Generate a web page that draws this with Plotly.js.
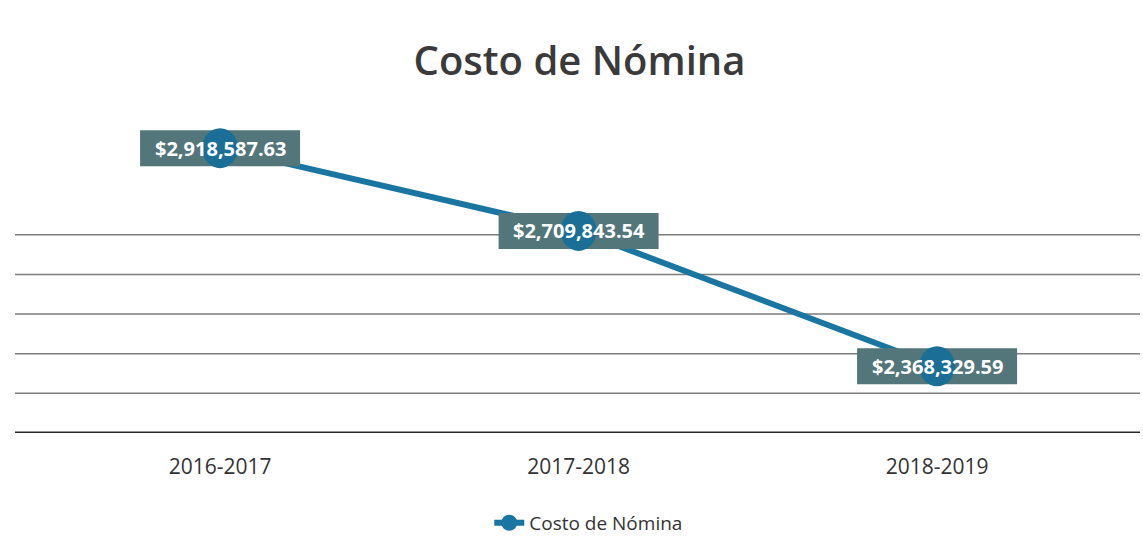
<!DOCTYPE html>
<html>
<head>
<meta charset="utf-8">
<script src="https://cdn.plot.ly/plotly-3.0.1.min.js"></script>
<style>html,body{margin:0;padding:0;background:#fff;}#chart{width:1143px;height:556px;}</style>
</head>
<body>
<div id="chart"></div>
<script>
const categories = ["2016-2017", "2017-2018", "2018-2019"];
const costoNomina = [2918587.63, 2709843.54, 2368329.59];
const valueLabels = ["$2,918,587.63", "$2,709,843.54", "$2,368,329.59"];
const gridValues = [2300000, 2400000, 2500000, 2600000, 2700000];
const seriesName = "Costo de Nómina";
const chartTitle = "Costo de Nómina";

const FONT = "Open Sans, Liberation Sans, sans-serif";
const lineColor = "#1a76a0";
const dotColor = "#1b6f97";
const boxColor = "#52767a";

const trace = {
  x: categories,
  y: costoNomina,
  type: "scatter",
  mode: "lines+markers",
  name: seriesName,
  line: {color: lineColor, width: 6},
  marker: {color: lineColor, size: 36},
  hoverinfo: "skip"
};

const shapes = gridValues.map(v => ({
  type: "line", xref: "paper", yref: "y", x0: 0, x1: 1, y0: v, y1: v,
  line: {color: "#7d7d7d", width: 1.5}, layer: "below"
}));
shapes.push({
  type: "line", xref: "paper", yref: "y", x0: 0, x1: 1, y0: 2200000, y1: 2200000,
  line: {color: "#262626", width: 3}, layer: "below"
});
// label boxes (above the line) then the dots above the boxes
categories.forEach((c, i) => {
  shapes.push({
    type: "rect", xref: "x", yref: "y", xsizemode: "pixel", ysizemode: "pixel",
    xanchor: c, yanchor: costoNomina[i], x0: -80, x1: 80, y0: -18, y1: 18,
    fillcolor: boxColor, line: {width: 0}, layer: "above"
  });
});
categories.forEach((c, i) => {
  shapes.push({
    type: "circle", xref: "x", yref: "y", xsizemode: "pixel", ysizemode: "pixel",
    xanchor: c, yanchor: costoNomina[i], x0: -18, x1: 18, y0: -20, y1: 20,
    fillcolor: dotColor, line: {width: 0}, layer: "above"
  });
});

const annotations = categories.map((c, i) => ({
  x: c, y: costoNomina[i], xref: "x", yref: "y",
  text: "<b>" + valueLabels[i] + "</b>",
  showarrow: false,
  font: {family: FONT, size: 20, color: "#ffffff"},
  xanchor: "center", yanchor: "middle"
}));

const layout = {
  width: 1143, height: 556,
  paper_bgcolor: "#ffffff", plot_bgcolor: "rgba(0,0,0,0)",
  margin: {l: 15, r: 3, t: 100, b: 123},
  title: {text: chartTitle, x: 0.507, xanchor: "center", y: 0.89, yanchor: "middle",
          font: {family: FONT, size: 40, color: "#3a3a3a", weight: 600}},
  xaxis: {
    type: "category", range: [-0.572, 2.566],
    showgrid: false, zeroline: false, showline: false, ticks: "",
    tickfont: {family: FONT, size: 21, color: "#333333"},
    ticklabelstandoff: 19
  },
  yaxis: {
    range: [2200000, 3040000], showgrid: false, zeroline: false,
    showticklabels: false, showline: false, ticks: ""
  },
  showlegend: true,
  legend: {orientation: "h", x: 0.51, xanchor: "center", y: -0.27, yanchor: "middle",
           font: {family: FONT, size: 19, color: "#333333"}},
  shapes: shapes,
  annotations: annotations
};

Plotly.newPlot("chart", [trace], layout, {displayModeBar: false, staticPlot: true});
</script>
</body>
</html>
